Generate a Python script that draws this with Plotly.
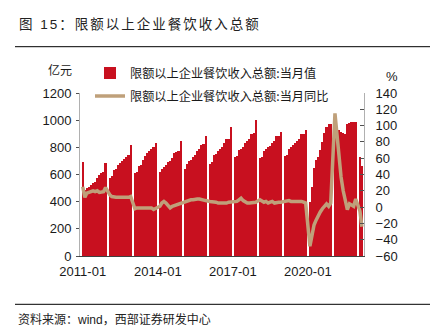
import plotly.graph_objects as go

# ---------------- data ----------------
# 2011 has all 12 months; from 2012 on January is not reported (Feb..Dec)
rev_2011 = [695, 486, 500, 510, 523, 535, 548, 575, 600, 612, 615, 685]
rev_2012 = [572, 590, 630, 640, 670, 688, 700, 712, 728, 745, 815]
rev_2013 = [608, 618, 665, 672, 705, 735, 755, 770, 785, 800, 830]
rev_2014 = [622, 640, 658, 670, 690, 700, 720, 755, 765, 770, 850]
rev_2015 = [640, 680, 700, 710, 730, 745, 770, 790, 820, 825, 885]
rev_2016 = [675, 690, 745, 750, 770, 785, 805, 830, 860, 865, 950]
rev_2017 = [730, 735, 780, 790, 805, 830, 845, 865, 900, 905, 1000]
rev_2018 = [725, 730, 775, 790, 800, 810, 835, 850, 880, 880, 915]
rev_2019 = [735, 740, 790, 800, 820, 830, 850, 860, 895, 900, 925]
rev_2020 = [400, 510, 646, 707, 731, 780, 842, 903, 952, 972, 975]
rev_2021 = [950, 935, 925, 915, 905, 900, 975, 982, 985, 990, 990]
rev_2022 = [730, 660]

yoy_2011 = [25, 12, 17, 18, 19, 20, 19, 20, 18, 18, 19, 24]
yoy_2012 = [15, 13, 12, 12, 12, 12, 11, 12, 12, 12, 13]
yoy_2013 = [-2, -1, -1, -1, -2, -1, -1, -1, -1, -3, -2]
yoy_2014 = [1, 5, 7, 5, 1, -1, 1, 2, 3, 4, 5]
yoy_2015 = [7, 8, 9, 9, 9, 10, 10, 10, 9, 9, 8]
yoy_2016 = [7, 7, 6, 6, 5, 5, 4, 5, 5, 6, 6]
yoy_2017 = [6, 7, 9, 11, 8, 6, 5, 5, 5, 5, 6]
yoy_2018 = [9, 8, 6, 7, 5, 6, 7, 5, 6, 6, 6]
yoy_2019 = [7, 7, 8, 7, 7, 7, 8, 7, 7, 6, 5]
yoy_2020 = [-48, -33, -22, -16, -10, -6, -2, 1, 4, 1, 5]
yoy_2021 = [115, 90, 60, 37, 20, 8, -3, 4, 2, 1, 10]
yoy_2022 = [-5, -24]

years = [2011, 2012, 2013, 2014, 2015, 2016, 2017, 2018, 2019, 2020, 2021, 2022]
rev_by_year = [rev_2011, rev_2012, rev_2013, rev_2014, rev_2015, rev_2016,
               rev_2017, rev_2018, rev_2019, rev_2020, rev_2021, rev_2022]
yoy_by_year = [yoy_2011, yoy_2012, yoy_2013, yoy_2014, yoy_2015, yoy_2016,
               yoy_2017, yoy_2018, yoy_2019, yoy_2020, yoy_2021, yoy_2022]

tick_dates = ["2011-01-01", "2014-01-01", "2017-01-01", "2020-01-01"]
tick_text = ["2011-01", "2014-01", "2017-01", "2020-01"]

bar_name = "限额以上企业餐饮收入总额:当月值"
line_name = "限额以上企业餐饮收入总额:当月同比"

# month labels: Jan..Dec for 2011, Feb.. afterwards
dates, revenue, yoy = [], [], []
for y, r, g in zip(years, rev_by_year, yoy_by_year):
    first_month = 1 if y == 2011 else 2
    for i, (rv, gv) in enumerate(zip(r, g)):
        dates.append(f"{y}-{first_month + i:02d}-01")
        revenue.append(rv)
        yoy.append(gv)

# ---------------- styling ----------------
RED = "#C8101F"
TAN = "#BFA07A"
FONT = "Liberation Sans, Noto Sans CJK SC, sans-serif"
CJK = "Noto Sans CJK SC, sans-serif"

W, H = 442, 328
L, R, T, B = 80, 364, 93, 256   # plot area in pixels


def px(x):
    return (x - L) / (R - L)


def py(y):
    return (B - y) / (B - T)


DAY_MS = 86400000

fig = go.Figure()
fig.add_trace(go.Bar(
    x=dates, y=revenue, name=bar_name, marker=dict(color=RED, line=dict(width=0)),
    width=33 * DAY_MS, yaxis="y", legend="legend",
))
fig.add_trace(go.Scatter(
    x=dates, y=yoy, name=line_name, mode="lines",
    line=dict(color=TAN, width=3.5), yaxis="y2", legend="legend2",
))

fig.update_layout(
    width=W, height=H,
    margin=dict(l=L, r=W - R, t=T, b=H - B, pad=0),
    paper_bgcolor="white", plot_bgcolor="white",
    font=dict(family=FONT, size=13, color="#1a1a1a"),
    bargap=0,
    xaxis=dict(
        type="date", range=["2010-11-22", "2022-04-01"],
        tickvals=tick_dates, ticktext=tick_text, ticks="",
        showline=True, linecolor="#404040", linewidth=1,
        showgrid=False, zeroline=False, ticklabelstandoff=3,
        tickfont=dict(size=13),
    ),
    yaxis=dict(
        range=[0, 1200], dtick=200, showgrid=False, zeroline=False,
        showline=True, linecolor="#b0b0b0", linewidth=1,
        ticks="outside", ticklen=3, tickcolor="#505050",
        ticklabelstandoff=2, tickfont=dict(size=13),
    ),
    yaxis2=dict(
        range=[-60, 140], dtick=20, overlaying="y", side="right",
        showgrid=False, zeroline=False,
        showline=True, linecolor="#b0b0b0", linewidth=1,
        ticks="inside", ticklen=4, tickcolor="#505050",
        ticklabelstandoff=8, tickfont=dict(size=13),
    ),
    legend=dict(
        x=px(90), y=py(73), xanchor="left", yanchor="middle",
        bgcolor="rgba(0,0,0,0)", borderwidth=0,
        font=dict(family=CJK, size=12.2, color="#1a1a1a"),
    ),
    legend2=dict(
        x=px(90), y=py(96), xanchor="left", yanchor="middle",
        bgcolor="rgba(0,0,0,0)", borderwidth=0,
        font=dict(family=CJK, size=12.2, color="#1a1a1a"),
    ),
    showlegend=True,
)

annotations = [
    dict(text='<span style="letter-spacing:2px">图 15：限额以上企业餐饮收入总额</span>',
         x=px(17), y=py(24), xanchor="left", yanchor="middle",
         font=dict(family=FONT, size=13.5, color="#222222")),
    dict(text="亿元", x=px(60), y=py(70), xanchor="center", yanchor="middle",
         font=dict(family=CJK, size=12, color="#1a1a1a")),
    dict(text="%", x=px(392), y=py(77), xanchor="center", yanchor="middle",
         font=dict(family=FONT, size=13, color="#1a1a1a")),
    dict(text="资料来源：wind，西部证券研发中心",
         x=px(16), y=py(319.5), xanchor="left", yanchor="middle",
         font=dict(family=FONT, size=12, color="#222222")),
]
for a in annotations:
    a.update(xref="paper", yref="paper", showarrow=False)
fig.update_layout(annotations=annotations)

fig.update_layout(shapes=[
    dict(type="line", xref="paper", yref="paper", x0=px(15), x1=px(430),
         y0=py(46.7), y1=py(46.7), line=dict(color="#000000", width=1)),
    dict(type="line", xref="paper", yref="paper", x0=px(15), x1=px(430),
         y0=py(304.3), y1=py(304.3), line=dict(color="#000000", width=1)),
])

fig.write_html("out.html")
